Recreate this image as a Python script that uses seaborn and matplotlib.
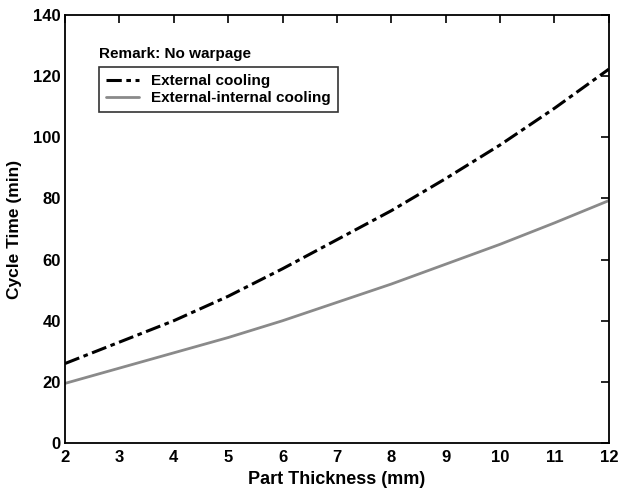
import matplotlib
matplotlib.use("Agg")
import matplotlib.pyplot as plt
import seaborn as sns
import pandas as pd

thickness = [2, 3, 4, 5, 6, 7, 8, 9, 10, 11, 12]
external = [26, 33, 40, 48, 57, 66.5, 76, 86.5, 97.5, 109.5, 122.3]
ext_int = [19.5, 24.5, 29.5, 34.5, 40, 46, 52, 58.5, 65, 72, 79.3]
xticks = [2, 3, 4, 5, 6, 7, 8, 9, 10, 11, 12]
yticks = [0, 20, 40, 60, 80, 100, 120, 140]

sns.set_theme(style="white")
plt.rcParams['font.family'] = ['Liberation Sans', 'DejaVu Sans']
plt.rcParams['font.weight'] = 'bold'
plt.rcParams['text.color'] = 'black'
plt.rcParams['axes.labelcolor'] = 'black'
plt.rcParams['xtick.color'] = 'black'
plt.rcParams['ytick.color'] = 'black'

df = pd.DataFrame({"t": thickness + thickness,
                   "v": external + ext_int,
                   "s": ["External cooling"] * len(thickness) + ["External-internal cooling"] * len(thickness)})

fig = plt.figure(figsize=(6.18, 4.88), dpi=100)
ax = fig.add_axes([0.1052, 0.0922, 0.880, 0.877])

sns.lineplot(data=df[df.s == "External cooling"], x="t", y="v", ax=ax, color="black",
             lw=2.2, label="External cooling")
sns.lineplot(data=df[df.s == "External-internal cooling"], x="t", y="v", ax=ax, color="#8a8a8a",
             lw=2.0, label="External-internal cooling")
ax.lines[0].set_dashes([5, 1.5, 1.5, 1.5])

ax.set_xlim(2, 12)
ax.set_ylim(0, 140)
ax.set_xticks(xticks)
ax.set_yticks(yticks)
ax.tick_params(direction="in", length=6, width=1.2, top=True, right=True,
               labelsize=12, color="black", labelcolor="black")
ax.tick_params(axis="x", pad=5)
ax.tick_params(axis="y", pad=3)
for lab in ax.get_xticklabels() + ax.get_yticklabels():
    lab.set_fontweight("bold")
for sp in ax.spines.values():
    sp.set_color("black")
    sp.set_linewidth(1.3)
ax.set_xlabel("Part Thickness (mm)", fontsize=13, fontweight="bold", labelpad=4)
ax.set_ylabel("Cycle Time (min)", fontsize=12.5, fontweight="bold", labelpad=8)

ax.text(0.063, 0.908, "Remark: No warpage", transform=ax.transAxes, fontsize=11,
        fontweight="bold", va="center", ha="left")
leg = ax.legend(loc="upper left", bbox_to_anchor=(0.062, 0.878), frameon=True, fancybox=False,
                edgecolor="black", prop={"weight": "bold", "size": 11},
                handlelength=2.2, borderpad=0.45, labelspacing=0.2, handletextpad=0.8,
                borderaxespad=0)
leg.get_frame().set_linewidth(1.2)
for t in leg.get_texts():
    t.set_color("black")

fig.savefig("out.png", dpi=100)
